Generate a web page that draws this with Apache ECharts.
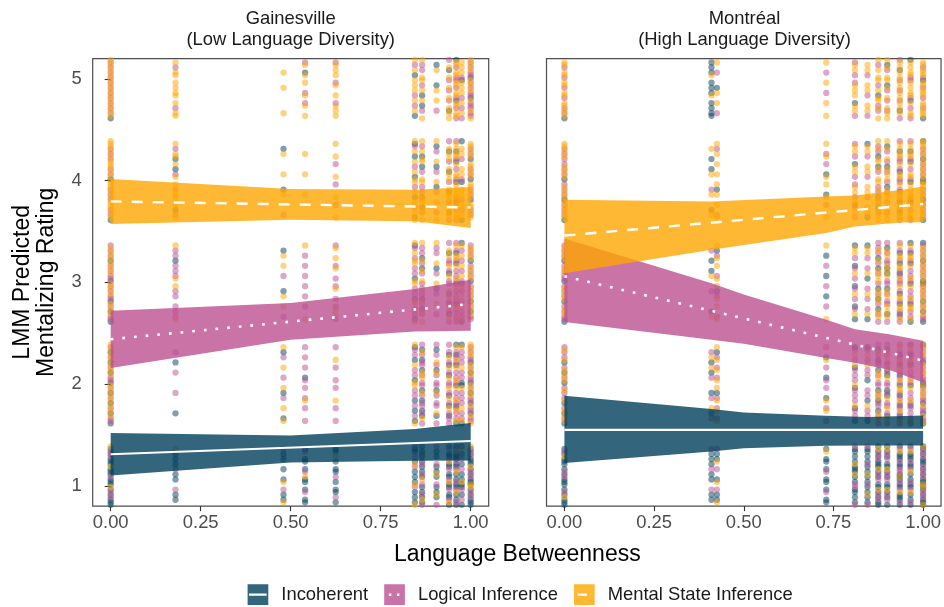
<!DOCTYPE html>
<html>
<head>
<meta charset="utf-8">
<script src="https://cdn.jsdelivr.net/npm/echarts@6/dist/echarts.min.js"></script>
<style>
  html, body { margin: 0; padding: 0; background: #ffffff; }
  #chart { width: 944px; height: 607px; }
</style>
</head>
<body>
<div id="chart"></div>
<script>
// ---------------- DATA ----------------
const CATEGORIES = ['Incoherent', 'Logical Inference', 'Mental State Inference'];
const PANELS = ['Gainesville\n(Low Language Diversity)', 'Montréal\n(High Language Diversity)'];
const X_TICKS = [0, 0.25, 0.5, 0.75, 1];
const Y_TICKS = [1, 2, 3, 4, 5];
const RATINGS = [1, 2, 3, 4, 5];

// Language betweenness values observed in each city
const GV_X = [0, 0.18, 0.48, 0.54, 0.625, 0.845, 0.865, 0.905, 0.94, 0.96, 0.975, 1.0];
const MT_X = [0, 0.41, 0.425, 0.73, 0.81, 0.845, 0.875, 0.9, 0.935, 0.965, 1.0];

// Number of responses per betweenness value (rows) and rating 1..5 (columns)
const GV_INC = [[22,8,5,2,1],[10,2,1,3,0],[8,3,2,2,0],[12,1,0,0,1],[12,0,0,0,0],[12,6,4,5,3],[14,7,4,4,3],[10,4,2,3,2],[16,6,4,4,2],[18,6,4,4,3],[12,4,3,3,2],[20,6,4,3,2]];
const GV_LOG = [[6,10,14,10,14],[2,3,10,4,3],[2,3,2,1,0],[3,8,6,0,4],[3,6,7,3,4],[6,8,8,4,4],[8,12,9,5,5],[5,10,5,4,2],[8,11,10,5,5],[8,12,12,7,10],[5,10,8,4,5],[8,14,12,8,18]];
const GV_MEN = [[4,14,12,20,16],[1,0,4,10,14],[3,5,4,3,4],[2,1,2,3,8],[1,2,6,5,10],[4,5,10,10,10],[3,5,8,10,8],[3,4,4,5,4],[4,6,8,12,10],[4,8,10,14,16],[3,5,8,8,10],[5,12,12,16,12]];

const MT_INC = [[20,6,4,3,1],[10,4,3,3,14],[6,2,2,1,2],[12,3,3,2,0],[18,5,5,2,1],[16,4,3,2,1],[18,6,5,4,2],[16,6,5,3,3],[20,7,6,5,2],[18,6,6,4,3],[22,7,7,6,3]];
const MT_LOG = [[6,10,14,12,8],[3,4,2,1,0],[5,6,4,2,2],[2,6,3,3,2],[5,10,6,7,5],[5,8,5,3,3],[8,12,10,7,5],[8,12,10,7,5],[10,14,12,10,7],[8,12,10,7,7],[10,16,12,10,7]];
const MT_MEN = [[3,10,10,14,16],[1,3,2,4,2],[3,8,8,8,4],[2,3,2,6,6],[3,4,5,8,10],[3,3,5,8,8],[4,7,10,12,12],[3,7,10,12,12],[4,10,12,14,14],[3,7,10,14,14],[5,12,14,18,20]];

// LMM prediction bands: [betweenness, lower, upper]
const GV_RIB_INC = [[0,1.101,1.518],[0.5,1.229,1.495],[0.845,1.246,1.557],[1,1.249,1.617]];
const GV_RIB_LOG = [[0,2.157,2.72],[0.5,2.436,2.796],[0.845,2.517,2.934],[1,2.524,3.026]];
const GV_RIB_MEN = [[0,3.573,4.016],[0.5,3.615,3.917],[0.845,3.60,3.91],[1,3.534,3.937]];
const MT_RIB_INC = [[0,1.223,1.885],[0.41,1.337,1.754],[0.5,1.37,1.72],[0.73,1.393,1.688],[0.845,1.395,1.675],[1,1.396,1.69]];
const MT_RIB_LOG = [[0,2.61,3.43],[0.41,2.436,2.99],[0.5,2.396,2.88],[0.73,2.255,2.632],[0.81,2.21,2.54],[0.905,2.14,2.49],[1,2.016,2.426]];
const MT_RIB_MEN = [[0,3.09,3.812],[0.41,3.32,3.795],[0.73,3.485,3.845],[0.81,3.549,3.853],[0.937,3.588,3.909],[1,3.59,3.943]];

// LMM predicted fixed-effect lines: [betweenness, rating]
const GV_LINE_INC = [[0,1.31],[1,1.44]];
const GV_LINE_LOG = [[0,2.44],[1,2.787]];
const GV_LINE_MEN = [[0,3.796],[1,3.737]];
const MT_LINE_INC = [[0,1.55],[1,1.55]];
const MT_LINE_LOG = [[0,3.06],[1,2.23]];
const MT_LINE_MEN = [[0,3.46],[1,3.77]];

// ---------------- STYLE ----------------
const COLORS = ['#003f5c', '#bc5090', '#ffa600'];
const LINE_TYPES = ['solid', [2.7, 9], [11, 10]];
const LINE_WIDTHS = [2.2, 2.6, 2.4];
// vertical jitter offsets (position adjustment, like geom_jitter), well spread order
const JITTER = [-0.3875,0.0125,-0.1875,0.2125,-0.2875,0.1125,-0.0875,0.3125,-0.3375,0.0625,-0.1375,0.2625,-0.2375,0.1625,-0.0375,0.3625,-0.3625,0.0375,-0.1625,0.2375,-0.2625,0.1375,-0.0625,0.3375,-0.3125,0.0875,-0.1125,0.2875,-0.2125,0.1875,-0.0125,0.3875];
const FONT = '"Liberation Sans", Arial, Helvetica, sans-serif';

function rgba(hex, a) {
  const n = parseInt(hex.slice(1), 16);
  return 'rgba(' + ((n >> 16) & 255) + ',' + ((n >> 8) & 255) + ',' + (n & 255) + ',' + a + ')';
}

// points of category ci; jitter slots continue across categories sharing a column/rating
function points(xs, countsAll, ci) {
  const out = [];
  xs.forEach(function (x, i) {
    RATINGS.forEach(function (r, j) {
      let start = i * 3;
      for (let p = 0; p < ci; p++) start += countsAll[p][i][j];
      const c = countsAll[ci][i][j];
      for (let k = 0; k < c; k++) {
        out.push([x, r + JITTER[(start + k) % JITTER.length]]);
      }
    });
  });
  return out;
}

function ribbonSeries(ci, data, gi) {
  const fill = rgba(COLORS[ci], 0.8);
  return {
    type: 'custom', name: CATEGORIES[ci], xAxisIndex: gi, yAxisIndex: gi, z: 3,
    silent: true, animation: false, data: data,
    itemStyle: { color: COLORS[ci], opacity: 0.8 },
    encode: { x: 0, y: [1, 2] },
    renderItem: function (params, api) {
      if (params.dataIndex !== 0) return null;
      const pts = [];
      for (let i = 0; i < data.length; i++) pts.push(api.coord([data[i][0], data[i][2]]));
      for (let i = data.length - 1; i >= 0; i--) pts.push(api.coord([data[i][0], data[i][1]]));
      return { type: 'polygon', shape: { points: pts }, style: { fill: fill, stroke: null } };
    }
  };
}

function scatterSeries(ci, data, gi) {
  return {
    type: 'scatter', name: CATEGORIES[ci], xAxisIndex: gi, yAxisIndex: gi, z: 2,
    silent: true, animation: false, symbolSize: 6.3, clip: true, data: data,
    itemStyle: { color: COLORS[ci], opacity: 0.5, borderWidth: 0 }
  };
}

function lineSeries(ci, data, gi) {
  return {
    type: 'line', name: CATEGORIES[ci], xAxisIndex: gi, yAxisIndex: gi, z: 4,
    silent: true, animation: false, symbol: 'none', showSymbol: false, data: data,
    itemStyle: { color: COLORS[ci] },
    lineStyle: { color: '#ffffff', width: LINE_WIDTHS[ci], type: LINE_TYPES[ci], cap: 'butt' }
  };
}

const ribbons = [[GV_RIB_INC, GV_RIB_LOG, GV_RIB_MEN], [MT_RIB_INC, MT_RIB_LOG, MT_RIB_MEN]];
const lines = [[GV_LINE_INC, GV_LINE_LOG, GV_LINE_MEN], [MT_LINE_INC, MT_LINE_LOG, MT_LINE_MEN]];
const counts = [[GV_INC, GV_LOG, GV_MEN], [MT_INC, MT_LOG, MT_MEN]];
const xsByPanel = [GV_X, MT_X];

const series = [];
for (let gi = 0; gi < 2; gi++) for (let ci = 0; ci < 3; ci++) series.push(ribbonSeries(ci, ribbons[gi][ci], gi));
for (let gi = 0; gi < 2; gi++) for (let ci = 0; ci < 3; ci++) series.push(scatterSeries(ci, points(xsByPanel[gi], counts[gi], ci), gi));
for (let gi = 0; gi < 2; gi++) for (let ci = 0; ci < 3; ci++) series.push(lineSeries(ci, lines[gi][ci], gi));

const GRIDS = [
  { left: 92.7, top: 58.6, width: 396, height: 447.5 },
  { left: 546.5, top: 58.6, width: 396, height: 447.5 }
];

function xAxis(gi) {
  return {
    type: 'value', gridIndex: gi, min: -0.05, max: 1.05,
    axisLine: { show: false }, splitLine: { show: false },
    axisTick: { show: true, customValues: X_TICKS, length: 5, lineStyle: { color: '#333333', width: 1.1 } },
    axisLabel: { show: true, customValues: X_TICKS, margin: 8, fontSize: 18.4, color: '#4d4d4d', fontFamily: FONT,
      formatter: function (v) { return v.toFixed(2); } }
  };
}
function yAxis(gi) {
  const show = gi === 0;
  return {
    type: 'value', gridIndex: gi, min: 0.8, max: 5.2,
    axisLine: { show: false }, splitLine: { show: false },
    axisTick: { show: show, customValues: Y_TICKS, length: 6, lineStyle: { color: '#333333', width: 1.1 } },
    axisLabel: { show: show, customValues: Y_TICKS, margin: 11, fontSize: 18.4, color: '#4d4d4d', fontFamily: FONT,
      formatter: function (v) { return String(Math.round(v)); } }
  };
}

const legendIcons = [
  'path://M0,0L20,0L20,20L0,20Z M1.4,9L1.4,11L18.4,11L18.4,9Z',
  'path://M0,0L20,0L20,20L0,20Z M4.5,8.8L4.5,11.2L6.9,11.2L6.9,8.8Z M12.3,8.8L12.3,11.2L14.7,11.2L14.7,8.8Z',
  'path://M0,0L20,0L20,20L0,20Z M3.5,9L3.5,11L12.5,11L12.5,9Z'
];

const option = {
  animation: false,
  backgroundColor: '#ffffff',
  color: COLORS,
  textStyle: { fontFamily: FONT },
  title: [
    { text: PANELS[0], left: 290.7, top: 7.7, textAlign: 'center', padding: 0,
      textStyle: { fontSize: 18.4, fontWeight: 'normal', color: '#1a1a1a', lineHeight: 21.7, fontFamily: FONT } },
    { text: PANELS[1], left: 744.5, top: 7.7, textAlign: 'center', padding: 0,
      textStyle: { fontSize: 18.4, fontWeight: 'normal', color: '#1a1a1a', lineHeight: 21.7, fontFamily: FONT } }
  ],
  grid: GRIDS.map(function (g) {
    return Object.assign({ show: true, borderColor: '#4d4d4d', borderWidth: 1.2, backgroundColor: 'transparent' }, g);
  }),
  xAxis: [xAxis(0), xAxis(1)],
  yAxis: [yAxis(0), yAxis(1)],
  legend: {
    left: 247.6, top: 584.3, padding: 0, orient: 'horizontal',
    itemWidth: 20.7, itemHeight: 20.7, itemGap: 16, selectedMode: false,
    data: CATEGORIES.map(function (n, i) { return { name: n, icon: legendIcons[i] }; }),
    itemStyle: { opacity: 0.8, borderWidth: 0 },
    lineStyle: { opacity: 0 },
    textStyle: { fontSize: 18.4, color: '#1a1a1a', fontFamily: FONT, padding: [0, 0, 0, 8] }
  },
  graphic: [
    { type: 'text', x: 34.9, y: 282.3, rotation: Math.PI / 2, silent: true,
      style: { text: 'LMM Predicted\nMentalizing Rating', fontSize: 23, lineHeight: 24.5, fill: '#000000',
        align: 'center', verticalAlign: 'middle', fontFamily: FONT } },
    { type: 'text', x: 517.3, y: 554.3, silent: true,
      style: { text: 'Language Betweenness', fontSize: 23, fill: '#000000',
        align: 'center', verticalAlign: 'middle', fontFamily: FONT } }
  ],
  series: series
};

const chart = echarts.init(document.getElementById('chart'), null, { renderer: 'canvas' });
chart.setOption(option);
</script>
</body>
</html>
